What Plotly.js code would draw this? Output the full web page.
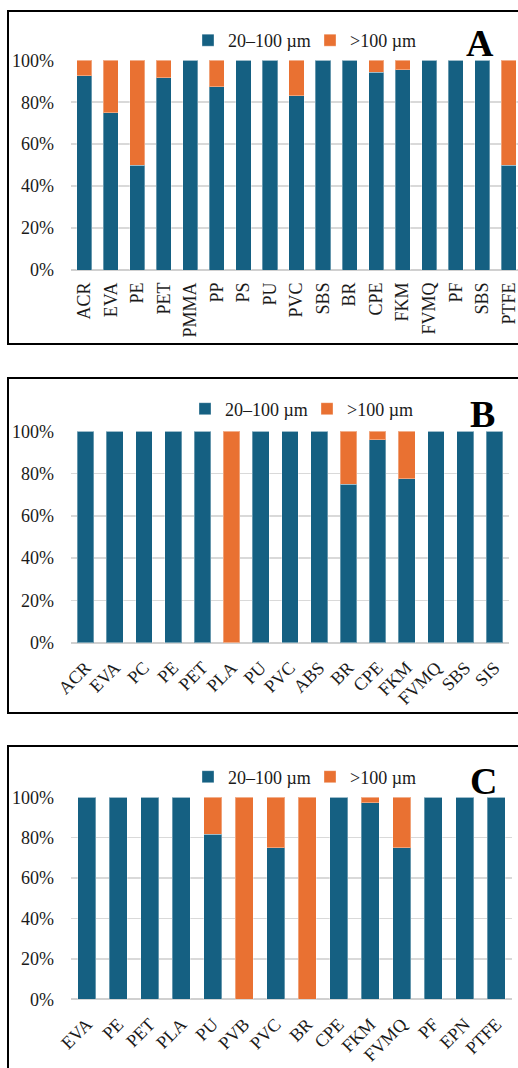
<!DOCTYPE html>
<html>
<head>
<meta charset="utf-8">
<script src="https://cdn.plot.ly/plotly-3.0.1.min.js"></script>
<style>
html,body{margin:0;padding:0;overflow:hidden;background:#fff;}
#chart{width:540px;height:1068px;}
</style>
</head>
<body>
<div id="chart"></div>
<script>
// ---------- data ----------
const seriesNames = ['20\u2013100 \u00b5m', '>100 \u00b5m'];

const catsA = ['ACR','EVA','PE','PET','PMMA','PP','PS','PU','PVC','SBS','BR','CPE','FKM','FVMQ','PF','SBS','PTFE'];
const smallA = [92.6, 75, 50, 91.7, 100, 87.4, 100, 100, 83.1, 100, 100, 94.4, 95.4, 100, 100, 100, 50];
const largeA = [7.4, 25, 50, 8.3, 0, 12.6, 0, 0, 16.9, 0, 0, 5.6, 4.6, 0, 0, 0, 50];

const catsB = ['ACR','EVA','PC','PE','PET','PLA','PU','PVC','ABS','BR','CPE','FKM','FVMQ','SBS','SIS'];
const smallB = [100, 100, 100, 100, 100, 0, 100, 100, 100, 75, 96, 77.6, 100, 100, 100];
const largeB = [0, 0, 0, 0, 0, 100, 0, 0, 0, 25, 4, 22.4, 0, 0, 0];

const catsC = ['EVA','PE','PET','PLA','PU','PVB','PVC','BR','CPE','FKM','FVMQ','PF','EPN','PTFE'];
const smallC = [100, 100, 100, 100, 81.8, 0, 75, 0, 100, 97.4, 75, 100, 100, 100];
const largeC = [0, 0, 0, 0, 18.2, 100, 25, 100, 0, 2.6, 25, 0, 0, 0];

const yTicks = [0, 20, 40, 60, 80, 100];
const panelLabels = ['A', 'B', 'C'];

// ---------- style ----------
const W = 540, H = 1068;
const BLUE = '#156082', ORANGE = '#E97132';
const FONT = 'Liberation Serif, Times New Roman, serif';
const TXT = '#1a1a1a';
const px = v => v / W;
const py = v => 1 - v / H;

const panels = [
  {cats: catsA, small: smallA, large: largeA, x: [71, 522], y: [60.3, 270], angle: -90, box: [11, 344], legY: 40.5, labY: 43, labX: 480, legX: 188, xso: 8},
  {cats: catsB, small: smallB, large: largeB, x: [71, 509], y: [431.3, 642.7], angle: -45, box: [378, 713], legY: 409, labY: 414, labX: 482, legX: 185, xso: 10},
  {cats: catsC, small: smallC, large: largeC, x: [71, 512], y: [797.3, 999.3], angle: -45, box: [746, 1200], legY: 777, labY: 781, labX: 483, legX: 188, xso: 10}
];

const data = [];
const layout = {
  width: W, height: H,
  margin: {l: 0, r: 0, t: 0, b: 0},
  paper_bgcolor: '#fff', plot_bgcolor: '#fff',
  barmode: 'stack', bargap: 0.43,
  font: {family: FONT, size: 18, color: TXT},
  shapes: [], annotations: []
};

panels.forEach((p, i) => {
  const sfx = i === 0 ? '' : String(i + 1);
  const idx = p.cats.map((_, k) => k);
  const legName = 'legend' + sfx;
  data.push({
    type: 'bar', x: idx, y: p.small, name: seriesNames[0],
    xaxis: 'x' + sfx, yaxis: 'y' + sfx, legend: legName,
    marker: {color: BLUE, line: {color: 'rgba(255,255,255,0.35)', width: 1}},
    hoverinfo: 'skip'
  });
  data.push({
    type: 'bar', x: idx, y: p.large, name: seriesNames[1],
    xaxis: 'x' + sfx, yaxis: 'y' + sfx, legend: legName,
    marker: {color: ORANGE, line: {color: 'rgba(255,255,255,0.35)', width: 1}},
    hoverinfo: 'skip'
  });
  layout['xaxis' + sfx] = {
    domain: [px(p.x[0]), px(p.x[1])],
    anchor: 'y' + sfx,
    range: [-0.5, p.cats.length - 0.5],
    tickmode: 'array', tickvals: idx, ticktext: p.cats,
    tickangle: p.angle, ticks: '', showgrid: false, zeroline: false,
    showline: false, fixedrange: true, ticklabelstandoff: p.xso,
    tickfont: {family: FONT, size: 18, color: TXT}
  };
  layout['yaxis' + sfx] = {
    domain: [py(p.y[1]), py(p.y[0])],
    anchor: 'x' + sfx,
    range: [0, 100],
    tickmode: 'array', tickvals: yTicks, ticktext: yTicks.map(v => v + '%'),
    showgrid: true, gridcolor: '#d9d9d9', gridwidth: 1.5,
    zeroline: true, zerolinecolor: '#d0d0d0', zerolinewidth: 2,
    showline: false, ticks: '', ticklabelstandoff: 16, fixedrange: true,
    tickfont: {family: FONT, size: 18, color: TXT}
  };
  layout[legName] = {
    orientation: 'h', x: px(p.legX), y: py(p.legY), xanchor: 'left', yanchor: 'middle',
    xref: 'paper', yref: 'paper',
    entrywidth: 77, entrywidthmode: 'pixels',
    font: {family: FONT, size: 18, color: TXT},
    bgcolor: 'rgba(0,0,0,0)', traceorder: 'normal'
  };
  layout.shapes.push({
    type: 'rect', xref: 'paper', yref: 'paper',
    x0: px(8), x1: px(W + 20), y0: py(p.box[1]), y1: py(p.box[0]),
    line: {color: '#000', width: 2}, fillcolor: 'rgba(0,0,0,0)', layer: 'above'
  });
  layout.annotations.push({
    text: '<b>' + panelLabels[i] + '</b>', xref: 'paper', yref: 'paper',
    x: px(p.labX), y: py(p.labY), xanchor: 'center', yanchor: 'middle',
    showarrow: false, font: {family: FONT, size: 38, color: '#000'}
  });
});

Plotly.newPlot('chart', data, layout, {displayModeBar: false, staticPlot: true});
</script>
</body>
</html>
